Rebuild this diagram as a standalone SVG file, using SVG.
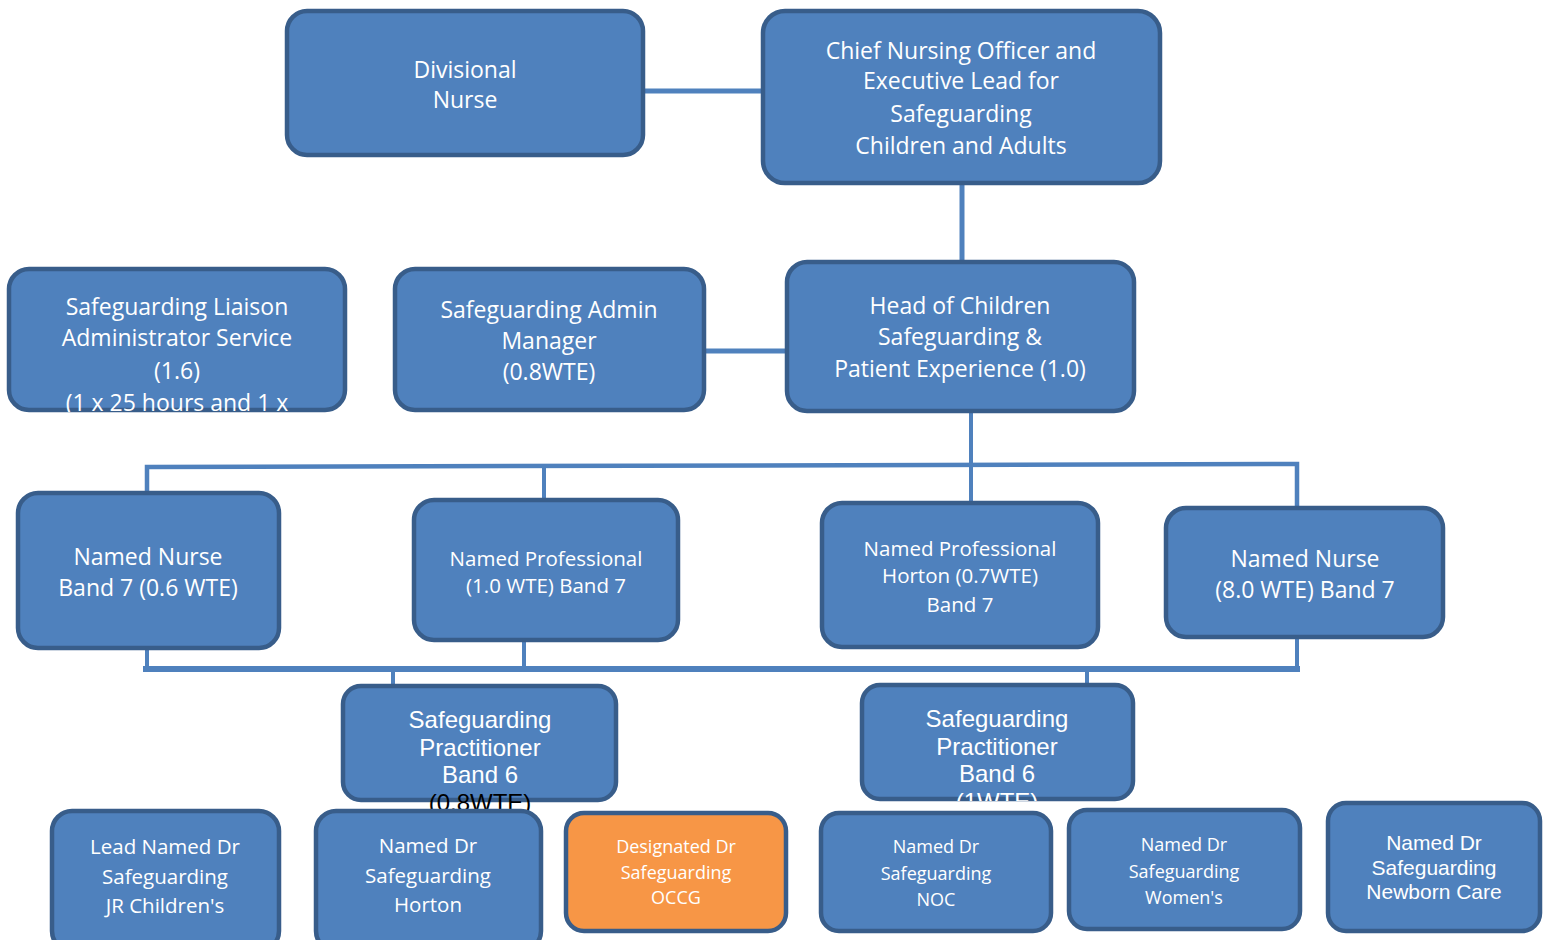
<svg xmlns="http://www.w3.org/2000/svg" width="1550" height="940" viewBox="0 0 1550 940">
<style>
.box{fill:#4F81BD;stroke:#385D8A;stroke-width:4.5}
.org{fill:#F79646;stroke:#385D8A;stroke-width:4.5}
.c{fill:#FFFFFF;font-family:"Open Sans","Noto Sans",sans-serif;text-anchor:middle}
.a{fill:#FFFFFF;font-family:"Liberation Sans",Arial,sans-serif;text-anchor:middle}
.s23{font-size:23px}
.s20{font-size:20.5px}
.s18{font-size:18px}
.ln{stroke:#4F81BD;fill:none}
</style>
<defs>
<clipPath id="clipLiaison"><rect x="7" y="267" width="340" height="145" rx="20"/></clipPath>
<clipPath id="clipSPR"><rect x="860" y="683" width="275" height="118" rx="18"/></clipPath>
</defs>
<g id="connectors">
<line class="ln" x1="643" y1="91" x2="763" y2="91" stroke-width="5"/>
<line class="ln" x1="962" y1="183" x2="962" y2="262" stroke-width="5"/>
<line class="ln" x1="704" y1="351" x2="787" y2="351" stroke-width="5"/>
<line class="ln" x1="971" y1="411" x2="971" y2="503" stroke-width="4"/>
<polyline class="ln" points="147,493 147,467 1297,464 1297,508" stroke-width="4.5"/>
<line class="ln" x1="544" y1="466" x2="544" y2="500" stroke-width="4"/>
<line class="ln" x1="143" y1="669" x2="1300" y2="669" stroke-width="6"/>
<line class="ln" x1="147" y1="648" x2="147" y2="669" stroke-width="4"/>
<line class="ln" x1="524" y1="640" x2="524" y2="669" stroke-width="4"/>
<line class="ln" x1="1297" y1="637" x2="1297" y2="669" stroke-width="4"/>
<line class="ln" x1="393" y1="669" x2="393" y2="686" stroke-width="4"/>
<line class="ln" x1="1087" y1="669" x2="1087" y2="685" stroke-width="4"/>
</g>
<g id="divisional-nurse">
<rect class="box" x="287" y="11" width="356" height="144" rx="20"/>
<text class="c s23" x="465" y="78">Divisional</text>
<text class="c s23" x="465" y="108">Nurse</text>
</g>
<g id="chief-nursing-officer">
<rect class="box" x="763" y="11" width="397" height="172" rx="22"/>
<text class="c s23" x="961" y="59">Chief Nursing Officer and</text>
<text class="c s23" x="961" y="89">Executive Lead for</text>
<text class="c s23" x="961" y="122">Safeguarding</text>
<text class="c s23" x="961" y="154">Children and Adults</text>
</g>
<g id="liaison-administrator">
<rect class="box" x="9" y="269" width="336" height="141" rx="20"/>
<g clip-path="url(#clipLiaison)">
<text class="c s23" x="177" y="315">Safeguarding Liaison</text>
<text class="c s23" x="177" y="346">Administrator Service</text>
<text class="c s23" x="177" y="379">(1.6)</text>
<text class="c s23" x="177" y="411">(1 x 25 hours and 1 x</text>
</g>
</g>
<g id="admin-manager">
<rect class="box" x="395" y="269" width="309" height="141" rx="20"/>
<text class="c s23" x="549" y="318">Safeguarding Admin</text>
<text class="c s23" x="549" y="349">Manager</text>
<text class="c s23" x="549" y="380">(0.8WTE)</text>
</g>
<g id="head-of-children">
<rect class="box" x="787" y="262" width="347" height="149" rx="20"/>
<text class="c s23" x="960" y="314">Head of Children</text>
<text class="c s23" x="960" y="345">Safeguarding &amp;</text>
<text class="c s23" x="960" y="377">Patient Experience (1.0)</text>
</g>
<g id="named-nurse-06">
<rect class="box" x="18" y="493" width="261" height="155" rx="20"/>
<text class="c s23" x="148" y="565">Named Nurse</text>
<text class="c s23" x="148" y="596">Band 7 (0.6 WTE)</text>
</g>
<g id="named-professional">
<rect class="box" x="414" y="500" width="264" height="140" rx="20"/>
<text class="c s20" x="546" y="566">Named Professional</text>
<text class="c s20" x="546" y="593">(1.0 WTE) Band 7</text>
</g>
<g id="named-professional-horton">
<rect class="box" x="822" y="503" width="276" height="144" rx="20"/>
<text class="c s20" x="960" y="556">Named Professional</text>
<text class="c s20" x="960" y="583">Horton (0.7WTE)</text>
<text class="c s20" x="960" y="612">Band 7</text>
</g>
<g id="named-nurse-80">
<rect class="box" x="1166" y="508" width="277" height="129" rx="20"/>
<text class="c s23" x="1305" y="567">Named Nurse</text>
<text class="c s23" x="1305" y="598">(8.0 WTE) Band 7</text>
</g>
<g id="practitioner-left">
<rect class="box" x="343" y="686" width="273" height="114" rx="18"/>
<text class="a" font-size="24" x="480" y="728">Safeguarding</text>
<text class="a" font-size="24" x="480" y="756">Practitioner</text>
<text class="a" font-size="24" x="480" y="783">Band 6</text>
<text class="a" font-size="24" x="480" y="811" style="fill:#000000">(0.8WTE)</text>
</g>
<g id="practitioner-right">
<rect class="box" x="862" y="685" width="271" height="114" rx="18"/>
<text class="a" font-size="24" x="997" y="727">Safeguarding</text>
<text class="a" font-size="24" x="997" y="755">Practitioner</text>
<text class="a" font-size="24" x="997" y="782">Band 6</text>
<text class="a" font-size="24" x="997" y="810" clip-path="url(#clipSPR)">(1WTE)</text>
</g>
<g id="lead-named-dr">
<rect class="box" x="52" y="811" width="227" height="140" rx="20"/>
<text class="c s20" x="165" y="854">Lead Named Dr</text>
<text class="c s20" x="165" y="884">Safeguarding</text>
<text class="c s20" x="165" y="913">JR Children's</text>
</g>
<g id="named-dr-horton">
<rect class="box" x="316" y="811" width="225" height="140" rx="20"/>
<text class="c s20" x="428" y="853">Named Dr</text>
<text class="c s20" x="428" y="883">Safeguarding</text>
<text class="c s20" x="428" y="912">Horton</text>
</g>
<g id="designated-dr">
<rect class="org" x="566" y="813" width="220" height="118" rx="18"/>
<text class="c s18" x="676" y="853">Designated Dr</text>
<text class="c s18" x="676" y="879">Safeguarding</text>
<text class="c s18" x="676" y="904">OCCG</text>
</g>
<g id="named-dr-noc">
<rect class="box" x="821" y="813" width="230" height="118" rx="18"/>
<text class="c s18" x="936" y="853">Named Dr</text>
<text class="c s18" x="936" y="880">Safeguarding</text>
<text class="c s18" x="936" y="906">NOC</text>
</g>
<g id="named-dr-womens">
<rect class="box" x="1069" y="810" width="231" height="119" rx="18"/>
<text class="c s18" x="1184" y="851">Named Dr</text>
<text class="c s18" x="1184" y="878">Safeguarding</text>
<text class="c s18" x="1184" y="904">Women's</text>
</g>
<g id="named-dr-newborn">
<rect class="box" x="1328" y="803" width="212" height="128" rx="18"/>
<text class="a" font-size="21" x="1434" y="850">Named Dr</text>
<text class="a" font-size="21" x="1434" y="875">Safeguarding</text>
<text class="a" font-size="21" x="1434" y="899">Newborn Care</text>
</g>
</svg>
